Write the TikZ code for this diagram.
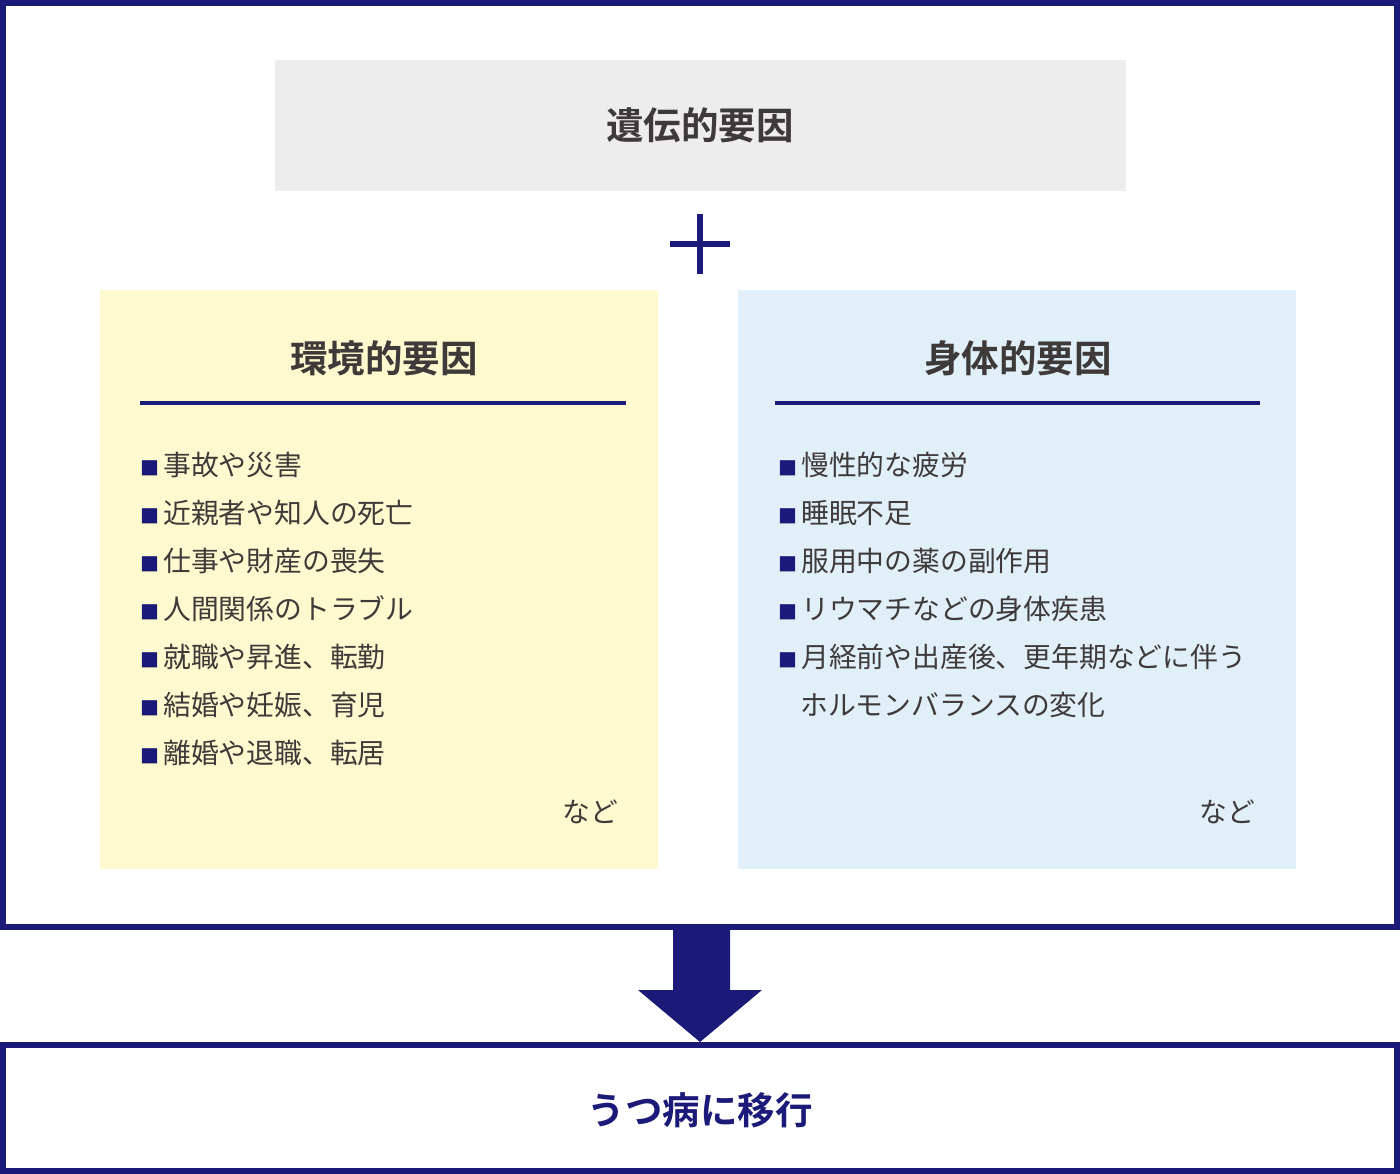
\documentclass[tikz,border=0pt]{standalone}
\usepackage{fontspec}
\setmainfont{Noto Sans CJK JP}[BoldFont={Noto Sans CJK JP Bold}]
\definecolor{navy}{HTML}{1C1A78}
\definecolor{txt}{HTML}{3E3A39}
\definecolor{graybg}{HTML}{EDEDED}
\definecolor{yellowbg}{HTML}{FFF9CF}
\definecolor{bluebg}{HTML}{E1EFF9}
\begin{document}
\begin{tikzpicture}[x=1pt,y=-1pt,
  heading/.style={font=\fontsize{37.5}{37.5}\selectfont\bfseries, text=txt, inner sep=0pt},
  item/.style={anchor=west, font=\fontsize{27.8}{27.8}\selectfont, text=txt, inner sep=0pt},
  rule/.style={draw=navy, line width=3.8pt},
  frame/.style={draw=navy, line width=6pt}]
\useasboundingbox (0,0) rectangle (1400,1174);
\newcommand{\bul}{{\color{navy}\fontsize{19}{19}\selectfont■}\hspace{4pt}}
% outer frame
\draw[frame, fill=white] (3,3) rectangle (1397,927);
% gray box
\fill[graybg] (275,60) rectangle (1126,191);
\node[heading] (gen) at (700,125) {遺伝的要因};
% plus
\draw[navy, line width=5.5pt] (670,244) -- (730,244);
\draw[navy, line width=5.5pt] (700,214) -- (700,274);
% yellow
\fill[yellowbg] (100,290) rectangle (658,869);
\node[heading] (env) at (384,358) {環境的要因};
\draw[rule] (140,403) -- (626,403);
\node[item] (e1) at (140,465) {\bul 事故や災害};
\node[item] (e2) at (140,513) {\bul 近親者や知人の死亡};
\node[item] (e3) at (140,561) {\bul 仕事や財産の喪失};
\node[item] (e4) at (140,609) {\bul 人間関係のトラブル};
\node[item] (e5) at (140,657) {\bul 就職や昇進、転勤};
\node[item] (e6) at (140,705) {\bul 結婚や妊娠、育児};
\node[item] (e7) at (140,753) {\bul 離婚や退職、転居};
\node[item, anchor=east] (e8) at (618,812) {など};
% blue
\fill[bluebg] (738,290) rectangle (1296,869);
\node[heading] (body) at (1018,358) {身体的要因};
\draw[rule] (775,403) -- (1260,403);
\node[item] (b1) at (778,465) {\bul 慢性的な疲労};
\node[item] (b2) at (778,513) {\bul 睡眠不足};
\node[item] (b3) at (778,561) {\bul 服用中の薬の副作用};
\node[item] (b4) at (778,609) {\bul リウマチなどの身体疾患};
\node[item] (b5) at (778,657) {\bul 月経前や出産後、更年期などに伴う};
\node[item] (b6) at (800,705) {ホルモンバランスの変化};
\node[item, anchor=east] (b7) at (1255,812) {など};
% arrow
\fill[navy] (673,926) -- (730,926) -- (730,990) -- (762,990) -- (700,1042) -- (638,990) -- (673,990) -- cycle;
% bottom box
\draw[frame, fill=white] (3,1045) rectangle (1397,1171);
\node[heading, text=navy] (res) at (700,1110) {うつ病に移行};
\end{tikzpicture}
\end{document}
